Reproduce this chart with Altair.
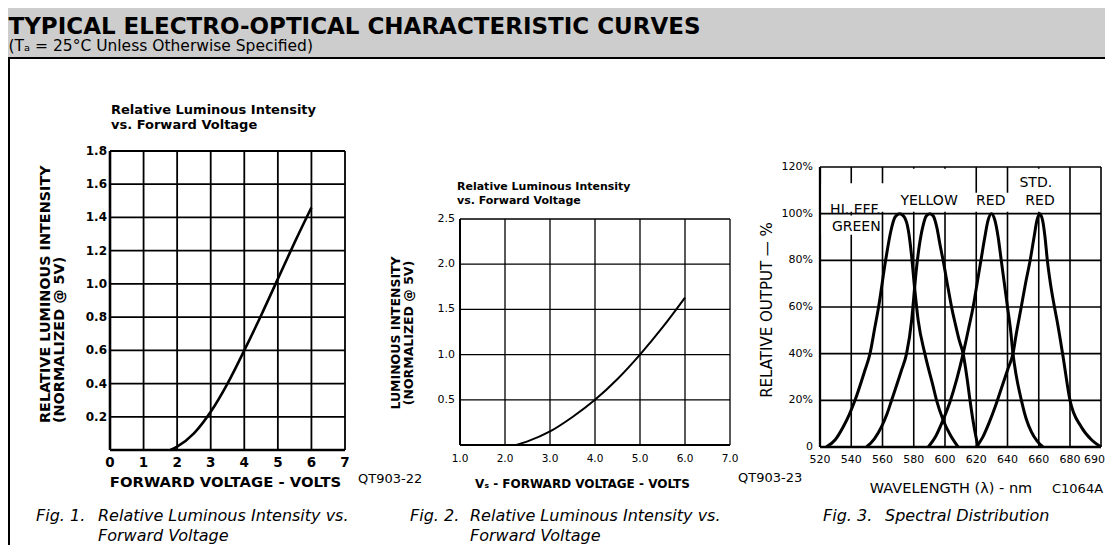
import altair as alt
import pandas as pd

W, H = 1097, 537
INK = "black"
SANS = "DejaVu Sans"

# ---------------- Fig. 1 : relative luminous intensity vs forward voltage ----------------
f1_volts = [1.8, 2.0, 2.5, 3.0, 3.5, 4.0, 4.5, 5.0, 5.5, 6.0]
f1_rel = [0.0, 0.02, 0.10, 0.23, 0.40, 0.60, 0.81, 1.03, 1.25, 1.46]
f1_xticks = [0, 1, 2, 3, 4, 5, 6, 7]
f1_yticks = [0.0, 0.2, 0.4, 0.6, 0.8, 1.0, 1.2, 1.4, 1.6, 1.8]

# ---------------- Fig. 2 : luminous intensity vs forward voltage ----------------
f2_volts = [2.25, 2.5, 3.0, 3.5, 4.0, 4.5, 5.0, 5.5, 6.0]
f2_lum = [0.0, 0.04, 0.15, 0.31, 0.50, 0.73, 1.00, 1.30, 1.63]
f2_xticks = [1.0, 2.0, 3.0, 4.0, 5.0, 6.0, 7.0]
f2_yticks = [0.0, 0.5, 1.0, 1.5, 2.0, 2.5]

# ---------------- Fig. 3 : spectral distribution ----------------
green_nm = [524, 529.6, 534.9, 538.8, 542.4, 548.8, 552.0, 555.2, 557.5, 562.0, 565.5, 568.0,
            571.0, 574.0, 576.5, 578.6, 580.0, 582.8, 587.1, 592.4, 594.6, 598.8, 603.5, 608.4]
green_pct = [0, 3.0, 8.7, 14.0, 20.0, 33.0, 40.0, 51.6, 60.0, 80.0, 93.0, 98.5,
             100, 98.5, 93.0, 82.0, 72.0, 54.5, 40.0, 26.0, 20.0, 11.6, 5.0, 0]
yellow_nm = [549.8, 554.8, 559.4, 562.8, 565.8, 572.2, 575.4, 578.6, 580.0, 581.5, 583.5, 586.0, 588.0, 590.3,
             592.5, 594.8, 597.0, 598.8, 602.0, 604.5, 606.5, 609.0, 611.6, 614.0, 616.0, 618.0, 619.6, 621.2]
yellow_pct = [0, 3.5, 8.7, 14.0, 20.0, 33.0, 40.0, 54.0, 64.0, 75.0, 86.0, 95.0, 99.0, 100,
              99.0, 94.0, 86.0, 80.0, 68.0, 59.0, 53.0, 46.0, 40.0, 30.0, 20.0, 11.0, 5.0, 0]
red_nm = [589.3, 594.0, 598.8, 603.0, 607.5, 611.6, 615.5, 618.0, 620.5, 623.0, 625.5, 627.5, 629.7,
          632.0, 634.0, 636.0, 638.0, 640.0, 642.0, 643.5, 645.5, 648.9, 652.0, 655.3, 659.0, 662.7]
red_pct = [0, 4.5, 11.6, 19.0, 29.0, 40.0, 52.0, 60.0, 70.0, 80.0, 90.0, 97.0, 100,
           97.0, 90.0, 80.0, 70.0, 60.0, 50.0, 40.0, 31.0, 20.0, 12.0, 6.5, 2.5, 0]
stdred_nm = [620.1, 624.0, 628.0, 632.0, 636.0, 640.3, 643.5, 645.5, 648.8, 651.5, 654.5, 657.0, 658.8, 660.6,
             662.5, 664.0, 665.5, 667.5, 669.5, 672.3, 675.5, 680.0, 683.6, 687.0, 690.0]
stdred_pct = [0, 4.0, 10.0, 17.0, 25.0, 33.5, 40.0, 48.0, 60.0, 70.0, 80.0, 90.0, 97.0, 100,
              97.0, 90.0, 80.0, 70.0, 62.0, 52.0, 39.0, 20.0, 8.7, 3.0, 0]
f3_xticks = [520, 540, 560, 580, 600, 620, 640, 660, 680, 690]
f3_yticks = [0, 20, 40, 60, 80, 100, 120]
curve_names = ["HI. EFF.", "GREEN", "YELLOW", "RED", "STD.", "RED"]
curve_name_nm = [542.7, 543.2, 589.8, 629.3, 658.1, 660.8]
curve_name_pct = [99.8, 92.4, 103.9, 103.9, 111.5, 103.9]

ONE = pd.DataFrame({"k": [0]})


def label(text, x, y, size, weight="normal", style="normal", align="left", line_height=None,
          angle=None, baseline="alphabetic"):
    props = dict(text=text, font=SANS, fontSize=size, fontWeight=weight, fontStyle=style,
                 align=align, baseline=baseline, color=INK)
    if line_height is not None:
        props["lineHeight"] = line_height
    if angle is not None:
        props["angle"] = angle
    return alt.Chart(ONE).mark_text(**props).encode(x=alt.value(x), y=alt.value(y))


def grid_layers(xticks, yticks, sx, sy, width, frame_width):
    xmin, xmax = sx.domain[0], sx.domain[-1]
    ymin, ymax = sy.domain[0], sy.domain[-1]
    vdf = pd.DataFrame({"v": xticks, "lo": ymin, "hi": ymax})
    hdf = pd.DataFrame({"v": yticks, "lo": xmin, "hi": xmax})
    v = alt.Chart(vdf).mark_rule(color=INK, strokeWidth=width).encode(
        x=alt.X("v:Q", scale=sx, axis=None),
        y=alt.Y("lo:Q", scale=sy, axis=None), y2="hi:Q")
    h = alt.Chart(hdf).mark_rule(color=INK, strokeWidth=width).encode(
        y=alt.Y("v:Q", scale=sy, axis=None),
        x=alt.X("lo:Q", scale=sx, axis=None), x2="hi:Q")
    # heavier left and bottom edges of the plotting frame
    left = alt.Chart(vdf.iloc[:1]).mark_rule(color=INK, strokeWidth=frame_width).encode(
        x=alt.X("v:Q", scale=sx, axis=None),
        y=alt.Y("lo:Q", scale=sy, axis=None), y2="hi:Q")
    bottom = alt.Chart(hdf.iloc[:1]).mark_rule(color=INK, strokeWidth=frame_width).encode(
        y=alt.Y("v:Q", scale=sy, axis=None),
        x=alt.X("lo:Q", scale=sx, axis=None), x2="hi:Q")
    return [v, h, left, bottom]


def tick_labels(ticks, texts, scale, channel, pos, size, weight="normal", align=None, dx=0):
    df = pd.DataFrame({"v": ticks, "t": texts})
    if channel == "x":
        mk = alt.Chart(df).mark_text(font=SANS, fontSize=size, fontWeight=weight, color=INK,
                                     align=align or "center", baseline="alphabetic", dx=dx)
        return mk.encode(x=alt.X("v:Q", scale=scale, axis=None), y=alt.value(pos), text="t:N")
    mk = alt.Chart(df).mark_text(font=SANS, fontSize=size, fontWeight=weight, color=INK,
                                 align=align or "right", baseline="middle", dx=dx)
    return mk.encode(y=alt.Y("v:Q", scale=scale, axis=None), x=alt.value(pos), text="t:N")


# ---------------- header / decorations ----------------
band = alt.Chart(ONE).mark_rect(color="#cdcdcd").encode(
    x=alt.value(0), x2=alt.value(W), y=alt.value(0), y2=alt.value(49))
band_line = alt.Chart(ONE).mark_rule(color=INK, strokeWidth=2.2).encode(
    x=alt.value(0), x2=alt.value(W), y=alt.value(50))
left_border = alt.Chart(ONE).mark_rule(color=INK, strokeWidth=2).encode(
    x=alt.value(1), y=alt.value(50), y2=alt.value(H))

texts = [
    label("TYPICAL ELECTRO-OPTICAL CHARACTERISTIC CURVES", 0.5, 26, 23, weight="bold"),
    label("(T\u2090 = 25°C Unless Otherwise Specified)", 0.5, 43, 15.5),
    label(["Relative Luminous Intensity", "vs. Forward Voltage"], 103, 106, 13, weight="bold", line_height=15),
    label(["Relative Luminous Intensity", "vs. Forward Voltage"], 449, 182, 11, weight="bold", line_height=14),
    label("QT903-22", 350, 475, 13),
    label("QT903-23", 730, 474, 13),
    label("C1064A", 1044, 485, 13),
    label("Fig. 1.", 28, 513, 16, style="italic"),
    label(["Relative Luminous Intensity vs.", "Forward Voltage"], 90, 513, 16, style="italic", line_height=20),
    label("Fig. 2.", 402, 513, 16, style="italic"),
    label(["Relative Luminous Intensity vs.", "Forward Voltage"], 462, 513, 16, style="italic", line_height=20),
    label("Fig. 3.", 815, 513, 16, style="italic"),
    label("Spectral Distribution", 877, 513, 16, style="italic"),
    # axis titles
    label("FORWARD VOLTAGE - VOLTS", 217.5, 479, 14.8, weight="bold", align="center"),
    label(["RELATIVE LUMINOUS INTENSITY", "(NORMALIZED @ 5V)"], 42, 415, 14.4, weight="bold",
          line_height=14, angle=270),
    label("V\u209B - FORWARD VOLTAGE - VOLTS", 574.5, 480, 12, weight="bold", align="center"),
    label(["LUMINOUS INTENSITY", "(NORMALIZED @ 5V)"], 392, 325, 12.5, weight="bold", align="center",
          line_height=13, angle=270),
    label("WAVELENGTH (\u03bb) - nm", 943, 485, 14.5, align="center"),
    label("RELATIVE OUTPUT \u2014 %", 764, 302, 15, align="center", angle=270),
]

# ---------------- Fig. 1 ----------------
sx1 = alt.Scale(domain=[0, 7], range=[102, 337], nice=False, zero=False)
sy1 = alt.Scale(domain=[0, 1.8], range=[442, 143], nice=False, zero=False)
f1_df = pd.DataFrame({"v": f1_volts, "i": f1_rel})
f1_line = alt.Chart(f1_df).mark_line(color=INK, strokeWidth=2.6, interpolate="monotone").encode(
    x=alt.X("v:Q", scale=sx1, axis=None), y=alt.Y("i:Q", scale=sy1, axis=None))
fig1 = alt.layer(
    *grid_layers(f1_xticks, f1_yticks, sx1, sy1, 1.8, 2.6), f1_line,
    tick_labels(f1_xticks, [str(v) for v in f1_xticks], sx1, "x", 459, 13.5, "bold"),
    tick_labels(f1_yticks[1:], [f"{v:.1f}" for v in f1_yticks[1:]], sy1, "y", 99, 12, "bold"),
)

# ---------------- Fig. 2 ----------------
sx2 = alt.Scale(domain=[1, 7], range=[452, 722], nice=False, zero=False)
sy2 = alt.Scale(domain=[0, 2.5], range=[437, 211], nice=False, zero=False)
f2_df = pd.DataFrame({"v": f2_volts, "i": f2_lum})
f2_line = alt.Chart(f2_df).mark_line(color=INK, strokeWidth=2.0, interpolate="monotone").encode(
    x=alt.X("v:Q", scale=sx2, axis=None), y=alt.Y("i:Q", scale=sy2, axis=None))
fig2 = alt.layer(
    *grid_layers(f2_xticks, f2_yticks, sx2, sy2, 1.3, 2.0), f2_line,
    tick_labels(f2_xticks, [f"{v:.1f}" for v in f2_xticks], sx2, "x", 454, 10.5),
    tick_labels(f2_yticks[1:], [f"{v:.1f}" for v in f2_yticks[1:]], sy2, "y", 447, 11),
)

# ---------------- Fig. 3 ----------------
sx3 = alt.Scale(domain=[520, 680, 690], range=[812, 1062, 1093], nice=False, zero=False)
sy3 = alt.Scale(domain=[0, 120], range=[439, 159], nice=False, zero=False)

series = []
for name, xs, ys in [("green", green_nm, green_pct), ("yellow", yellow_nm, yellow_pct),
                     ("red", red_nm, red_pct), ("stdred", stdred_nm, stdred_pct)]:
    series.append(pd.DataFrame({"s": name, "nm": xs, "pct": ys}))
f3_df = pd.concat(series, ignore_index=True)

mask_df = pd.DataFrame({
    "a": [521, 521, 577, 603, 652],
    "b": [577, 553, 603, 652, 670],
    "c": [100.8, 91, 100.8, 100.8, 100.8],
    "d": [113, 99.2, 119.2, 109, 119.2],
})
f3_mask = alt.Chart(mask_df).mark_rect(color="white").encode(
    x=alt.X("a:Q", scale=sx3, axis=None), x2="b:Q",
    y=alt.Y("c:Q", scale=sy3, axis=None), y2="d:Q")
f3_lines = alt.Chart(f3_df).mark_line(color=INK, strokeWidth=3.0, interpolate="monotone").encode(
    x=alt.X("nm:Q", scale=sx3, axis=None), y=alt.Y("pct:Q", scale=sy3, axis=None), detail="s:N")
names_df = pd.DataFrame({"t": curve_names, "nm": curve_name_nm, "pct": curve_name_pct})
f3_names = alt.Chart(names_df).mark_text(font=SANS, fontSize=14, color=INK, align="center",
                                         baseline="alphabetic").encode(
    x=alt.X("nm:Q", scale=sx3, axis=None), y=alt.Y("pct:Q", scale=sy3, axis=None), text="t:N")
fig3 = alt.layer(
    *grid_layers(f3_xticks, f3_yticks, sx3, sy3, 1.6, 2.3), f3_mask, f3_lines, f3_names,
    tick_labels(f3_xticks[:-1], [str(v) for v in f3_xticks[:-1]], sx3, "x", 455, 11),
    tick_labels(f3_xticks[-1:], [str(v) for v in f3_xticks[-1:]], sx3, "x", 455, 11, align="right", dx=4),
    tick_labels(f3_yticks, ["0" if v == 0 else f"{v}%" for v in f3_yticks], sy3, "y", 805, 11),
)

chart = alt.layer(band, band_line, left_border, *texts, fig1, fig2, fig3).resolve_scale(
    x="independent", y="independent").properties(
    width=W, height=H, padding=0, autosize=alt.AutoSizeParams(type="none")).configure_view(strokeWidth=0)

chart.save("out.html", embed_options={"renderer": "svg", "actions": False})
